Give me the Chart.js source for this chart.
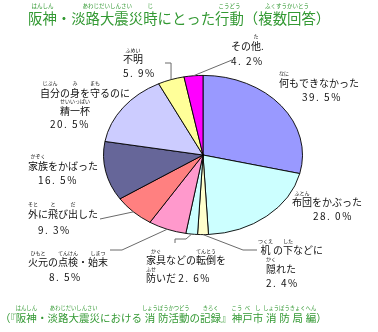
<!DOCTYPE html>
<html><head><meta charset="utf-8">
<script src="https://cdn.jsdelivr.net/npm/chart.js@4/dist/chart.umd.min.js"></script>
<style>html,body{margin:0;padding:0;background:#fff;}canvas{display:block;}</style>
</head><body>
<canvas id="c" width="378" height="332"></canvas>
<script>
// ---- data ----
const categories = ['何もできなかった','布団をかぶった','机の下などに隠れた','家具などの転倒を防いだ','火元の点検・始末','外に飛び出した','家族をかばった','自分の身を守るのに精一杯','不明','その他'];
const values = [39.5, 28.0, 2.4, 2.6, 8.5, 9.3, 16.5, 20.5, 5.9, 4.2];
const sliceColors = ['#9999FF','#CCFFFF','#FFFFCC','#CCFFFF','#FF99CC','#FF8080','#666699','#CCCCFF','#FFFF99','#FF00FF'];
const titleText = '{阪神|はんしん}・{淡路大震災|あわじだいしんさい}{時|じ}にとった{行動|こうどう}（{複数回答|ふくすうかいとう}）';
const sourceText = '（『{阪神|はんしん}・{淡路大震災|あわじだいしんさい}における{消|しょう}{防|ぼう}{活動|かつどう}の{記録|きろく}』{神|こう}{戸|べ}{市|し}{消|しょう}{防|ぼう}{局|きょく}{編|へん}）';

// ---- label layout (text lines with ruby; positions) ----
const labelLayout = [
  [{t:'{何|なに}もできなかった', x:279, y:83}, {pct:true, x:302, y:97}],
  [{t:'{布団|ふとん}をかぶった', x:292, y:202.5}, {pct:true, x:313, y:216}],
  [{t:'{机|つくえ}の{下|した}などに', x:258, y:250.5}, {t:'{隠|かく}れた', x:266, y:269}, {pct:true, x:266, y:283}],
  [{t:'{家具|かぐ}などの{転倒|てんとう}を', x:146, y:260.5}, {t:'{防|ふせ}いだ ', pct:true, x:146, y:278.5}],
  [{t:'{火元|ひもと}の{点検|てんけん}・{始末|しまつ}', x:28, y:262.5}, {pct:true, x:49, y:277}],
  [{t:'{外|そと}に{飛|と}び{出|だ}した', x:28, y:214}, {pct:true, x:38, y:230.5}],
  [{t:'{家族|かぞく}をかばった', x:28, y:166}, {pct:true, x:38, y:180.5}],
  [{t:'{自分|じぶん}の{身|み}を{守|まも}るのに', x:40, y:93}, {t:'{精一杯|せいいっぱい}', x:60, y:111}, {pct:true, x:50, y:124}],
  [{t:'{不明|ふめい}', x:123, y:59.5}, {pct:true, x:123, y:73}],
  [{t:'その{他|た}.', x:231, y:46}, {pct:true, x:231, y:61.5}]
];
// leader lines: slice index, points after the slice edge point ('E' = edge x)
const leaders = [
  {i:8, pts:[['E',63],[165,63]]},
  {i:9, pts:[[232,60]]},
  {i:5, pts:[[100,219]]},
  {i:4, pts:[[122,250],[110,250]]},
  {i:3, pts:[[186,239],[175,239],[175,243]]},
  {i:2, pts:[[243,250],[257,250]]}
];

const FONT = '"Noto Sans CJK JP", "Noto Sans", sans-serif';
const YSCALE = 0.8;

function parseRuby(s){
  const out = []; const re = /\{([^|}]+)\|([^}]+)\}|([^{]+)/g; let m;
  while ((m = re.exec(s))) { if (m[3]) out.push({b:m[3], r:''}); else out.push({b:m[1], r:m[2]}); }
  return out;
}
function drawRuby(ctx, s, x, y, bSize, rSize, gap){
  let cx = x;
  for (const seg of parseRuby(s)) {
    ctx.font = bSize + 'px ' + FONT; const bw = ctx.measureText(seg.b).width;
    let rw = 0;
    if (seg.r) { ctx.font = rSize + 'px ' + FONT; rw = ctx.measureText(seg.r).width; }
    const w = Math.max(bw, rw);
    ctx.font = bSize + 'px ' + FONT; ctx.fillText(seg.b, cx + (w - bw) / 2, y);
    if (seg.r) { ctx.font = rSize + 'px ' + FONT; ctx.fillText(seg.r, cx + (w - rw) / 2, y - gap); }
    cx += w;
  }
  return cx;
}
function pctText(v){ return v.toFixed(1).replace('.', '. ') + '%'; }

const ellipsePlugin = {
  id: 'ellipse',
  beforeDatasetsDraw(chart){
    const a = chart.getDatasetMeta(0).data[0];
    const ctx = chart.ctx; ctx.save();
    ctx.translate(a.x, a.y); ctx.scale(1, YSCALE); ctx.translate(-a.x, -a.y);
  },
  afterDatasetsDraw(chart){ chart.ctx.restore(); },
  afterDraw(chart){
    const ctx = chart.ctx; const arcs = chart.getDatasetMeta(0).data;
    ctx.save();
    ctx.strokeStyle = '#6a6a6a'; ctx.lineWidth = 1;
    for (const L of leaders) {
      const a = arcs[L.i]; const ang = (a.startAngle + a.endAngle) / 2;
      const ex = a.x + a.outerRadius * Math.cos(ang), ey = a.y + YSCALE * a.outerRadius * Math.sin(ang);
      ctx.beginPath(); ctx.moveTo(ex, ey);
      for (const p of L.pts) ctx.lineTo(p[0] === 'E' ? ex : p[0], p[1]);
      ctx.stroke();
    }
    ctx.textBaseline = 'middle'; ctx.textAlign = 'left';
    ctx.fillStyle = '#111';
    labelLayout.forEach((lines, i) => {
      for (const ln of lines) {
        let x = ln.x;
        if (ln.t) x = drawRuby(ctx, ln.t, x, ln.y, 10, 5, 9.5);
        if (ln.pct) {
          ctx.font = '10px ' + FONT; ctx.letterSpacing = '1.5px';
          ctx.fillText(pctText(values[i]), x, ln.y);
          ctx.letterSpacing = '0px';
        }
      }
    });
    ctx.fillStyle = '#339933';
    drawRuby(ctx, titleText, 28, 19, 14.4, 5.5, 13.5);
    drawRuby(ctx, sourceText, 0, 318, 10.5, 5.3, 10);
    ctx.restore();
  }
};

new Chart(document.getElementById('c'), {
  type: 'pie',
  data: { labels: categories, datasets: [{ data: values, backgroundColor: sliceColors, borderColor: '#000', borderWidth: 1 }] },
  options: {
    responsive: false, devicePixelRatio: 1, animation: false,
    layout: { padding: { left: 103, right: 75, top: 55, bottom: 77 } },
    plugins: { legend: { display: false }, tooltip: { enabled: false } },
    events: []
  },
  plugins: [ellipsePlugin]
});
</script>
</body></html>
